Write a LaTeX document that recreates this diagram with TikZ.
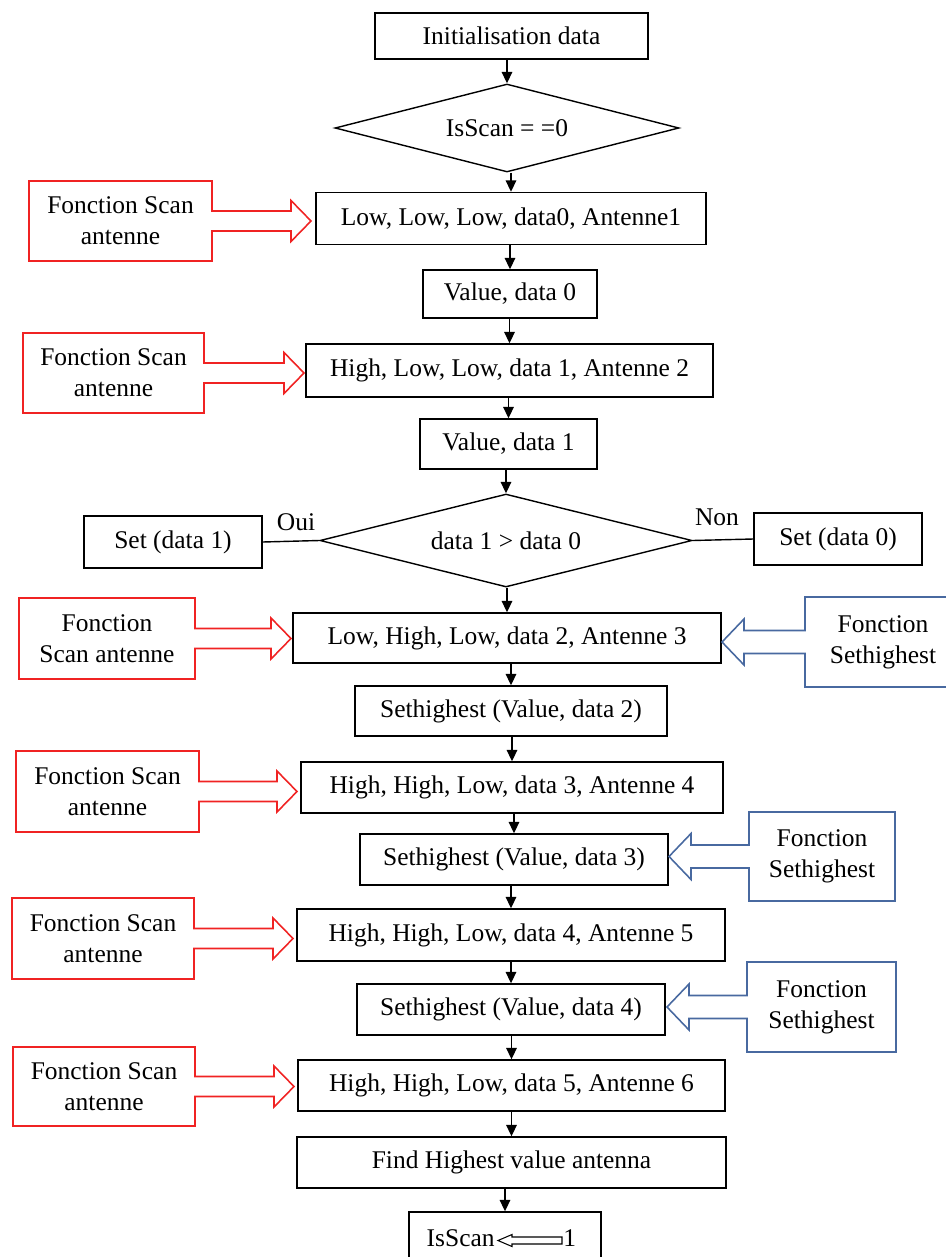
\documentclass[tikz,border=0pt]{standalone}
\usepackage{fontspec}
\setmainfont{Liberation Serif}
\usetikzlibrary{shapes.geometric,arrows.meta}
\definecolor{cred}{RGB}{240,35,35}
\definecolor{cblue}{RGB}{72,105,160}
\tikzset{
  wh/.style 2 args={minimum width=#1*0.02cm, minimum height=#2*0.02cm},
  box/.style={draw, line width=0.8pt, inner sep=0pt, fill=white},
  dia/.style={draw, diamond, line width=0.8pt, inner sep=0pt},
  flow/.style={line width=0.8pt, -{Triangle[length=6.5pt,width=6pt]}},
  rline/.style={draw=cred, line width=0.9pt, line join=miter},
  bline/.style={draw=cblue, line width=0.9pt, line join=miter},
  ctext/.style={align=center, inner sep=0pt},
}
\newcommand{\rcall}[7]{%
  \pgfmathsetmacro\cy{(#3+#5)/2}%
  \pgfmathsetmacro\cx{(#2+#4)/2}%
  \draw[rline] (#2,#3) -- (#4,#3) -- (#4,\cy-10) -- (#6-20,\cy-10) -- (#6-20,\cy-20.5) -- (#6,\cy) -- (#6-20,\cy+20.5) -- (#6-20,\cy+10) -- (#4,\cy+10) -- (#4,#5) -- (#2,#5) -- cycle;
  \node[ctext] (#1) at (\cx,\cy) {#7};
}
\newcommand{\bcall}[7]{%
  \pgfmathsetmacro\cy{(#3+#5)/2}%
  \pgfmathsetmacro\cx{(#2+#4)/2}%
  \draw[bline] (#4,#3) -- (#2,#3) -- (#2,\cy-11.5) -- (#6+22,\cy-11.5) -- (#6+22,\cy-23) -- (#6,\cy) -- (#6+22,\cy+23) -- (#6+22,\cy+11.5) -- (#2,\cy+11.5) -- (#2,#5) -- (#4,#5) -- cycle;
  \node[ctext] (#1) at (\cx,\cy) {#7};
}
\begin{document}
\begin{tikzpicture}[x=0.02cm, y=-0.02cm, font=\fontsize{14.5pt}{17.5pt}\selectfont]
\useasboundingbox (0,0) rectangle (946,1257);

% main column
\node[box, wh={273}{46}] (init) at (511.5,36) {Initialisation data};
\node[dia, wh={344}{88}, aspect=3.9] (d1) at (507,128) {IsScan = =0};
\node[box, wh={390}{52}] (b1) at (511,218.5) {Low, Low, Low, data0, Antenne1};
\node[box, wh={174}{48}] (v0) at (510,294) {Value, data 0};
\node[box, wh={407}{53}] (b2) at (509.5,370.5) {High, Low, Low, data 1, Antenne 2};
\node[box, wh={177}{50}] (v1) at (508.5,444) {Value, data 1};
\node[dia, wh={372}{93}, aspect=4] (d2) at (506,540.5) {data 1 > data 0};
\node[box, wh={178}{52}] (s1) at (173,542) {Set (data 1)};
\node[box, wh={168}{52}] (s0) at (838,539) {Set (data 0)};
\node[box, wh={428}{50}] (b3) at (507,638) {Low, High, Low, data 2, Antenne 3};
\node[box, wh={312}{50}] (h2) at (511,711) {Sethighest (Value, data 2)};
\node[box, wh={422}{51}] (b4) at (512,787.5) {High, High, Low, data 3, Antenne 4};
\node[box, wh={308}{51}] (h3) at (514,859.5) {Sethighest (Value, data 3)};
\node[box, wh={428}{52}] (b5) at (511,935) {High, High, Low, data 4, Antenne 5};
\node[box, wh={308}{51}] (h4) at (511,1009.5) {Sethighest (Value, data 4)};
\node[box, wh={427}{51}] (b6) at (511.5,1085.5) {High, High, Low, data 5, Antenne 6};
\node[box, wh={429}{51}] (find) at (511.5,1162.5) {Find Highest value antenna};
\node[box, wh={192}{60}] (last) at (505,1242) {};
\node[anchor=base east, inner sep=0pt] (isscan) at (495,1246) {IsScan};
\node[anchor=base west, inner sep=0pt] (one) at (563,1246) {1};
\draw[line width=0.6pt] (498,1240.5) -- (512,1234.5) -- (512,1237) -- (562,1237) -- (562,1244) -- (512,1244) -- (512,1246.5) -- cycle;

% labels
\node (oui) at (296,522) {Oui};
\node (non) at (717,517) {Non};

% connectors
\foreach \a/\b in {init/d1, d1/b1, b1/v0, v0/b2, b2/v1, v1/d2, d2/b3, b3/h2, h2/b4, b4/h3, h3/b5, b5/h4, h4/b6, b6/find, find/last}
  \draw[flow] (\b.north |- \a.south) -- (\b.north);
\draw[line width=0.8pt] (d2.west) -- (s1.east);
\draw[line width=0.8pt] (d2.east) -- (s0.west);

% red callouts
\rcall{r1}{29}{181}{212}{261}{311}{Fonction Scan\\antenne}
\rcall{r2}{23}{333}{204}{413}{304}{Fonction Scan\\antenne}
\rcall{r3}{19}{598}{195}{679}{291}{Fonction\\Scan antenne}
\rcall{r4}{16}{751}{199}{832}{297}{Fonction Scan\\antenne}
\rcall{r5}{12}{898}{194}{979}{293}{Fonction Scan\\antenne}
\rcall{r6}{13}{1047}{195}{1126}{294}{Fonction Scan\\antenne}

% blue callouts
\bcall{c1}{805}{597}{961}{687}{722}{Fonction\\Sethighest}
\bcall{c2}{749}{812}{895}{901}{669}{Fonction\\Sethighest}
\bcall{c3}{747}{962}{896}{1052}{667}{Fonction\\Sethighest}
\end{tikzpicture}
\end{document}
